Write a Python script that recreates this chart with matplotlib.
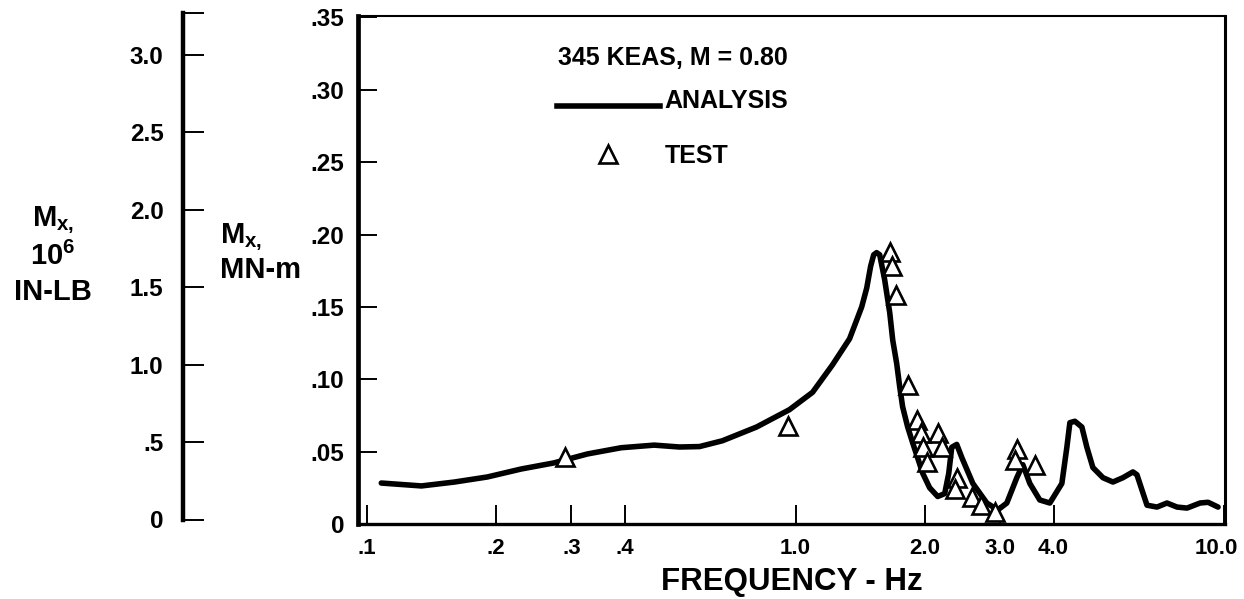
import matplotlib
matplotlib.use("Agg")
import numpy as np
import matplotlib.pyplot as plt
import matplotlib.transforms as mtransforms
from matplotlib.legend_handler import HandlerLine2D
from matplotlib.lines import Line2D
from matplotlib.ticker import NullLocator

# --- data ------------------------------------------------------------------
freq_analysis = [0.108, 0.134, 0.160, 0.191, 0.229, 0.273, 0.327, 0.392, 0.468, 0.536,
                 0.597, 0.675, 0.811, 0.968, 1.096, 1.220, 1.337, 1.427, 1.466, 1.497,
                 1.522, 1.546, 1.572, 1.614, 1.659, 1.686, 1.722, 1.750, 1.778, 1.827,
                 1.877, 1.981, 2.056, 2.147, 2.229, 2.278, 2.315, 2.378, 2.443, 2.593,
                 2.795, 2.965, 3.112, 3.284, 3.392, 3.522, 3.715, 3.921, 4.183, 4.297,
                 4.367, 4.486, 4.658, 4.785, 4.942, 5.216, 5.504, 5.808, 6.129, 6.262,
                 6.433, 6.609, 6.974, 7.358, 7.766, 8.195, 8.790, 9.178, 9.683]
mx_analysis = [0.0283, 0.0263, 0.0290, 0.0325, 0.0380, 0.0422, 0.0484, 0.0527, 0.0545, 0.0532,
               0.0535, 0.0575, 0.0670, 0.0790, 0.0910, 0.1100, 0.1280, 0.1500, 0.1630, 0.1780,
               0.1860, 0.1875, 0.1860, 0.1690, 0.1460, 0.1270, 0.1110, 0.0950, 0.0810, 0.0670,
               0.0560, 0.0350, 0.0250, 0.0190, 0.0210, 0.0350, 0.0530, 0.0550, 0.0460, 0.0280,
               0.0145, 0.0097, 0.0145, 0.0320, 0.0410, 0.0280, 0.0166, 0.0145, 0.0280, 0.0530,
               0.0700, 0.0710, 0.0670, 0.0530, 0.0390, 0.0320, 0.0290, 0.0320, 0.0360, 0.0340,
               0.0235, 0.0130, 0.0117, 0.0145, 0.0117, 0.0110, 0.0145, 0.0150, 0.0117]

freq_test = [0.29, 0.96, 1.66, 1.68, 1.72, 1.83, 1.92, 1.96, 1.98, 2.03,
             2.15, 2.20, 2.38, 2.35, 2.58, 2.71, 2.92, 3.28, 3.25, 3.62]
mx_test = [0.046, 0.068, 0.188, 0.178, 0.158, 0.096, 0.072, 0.063, 0.053, 0.043,
           0.063, 0.053, 0.032, 0.024, 0.019, 0.013, 0.008, 0.052, 0.044, 0.041]

x_ticks = [0.1, 0.2, 0.3, 0.4, 1.0, 2.0, 3.0, 4.0, 10.0]
x_labels = [".1", ".2", ".3", ".4", "1.0", "2.0", "3.0", "4.0", "10.0"]
y_ticks = [0, 0.05, 0.10, 0.15, 0.20, 0.25, 0.30, 0.35]
y_labels = ["0", ".05", ".10", ".15", ".20", ".25", ".30", ".35"]
inlb_ticks = [0, 0.5, 1.0, 1.5, 2.0, 2.5, 3.0, 3.27]
inlb_labels = ["0", ".5", "1.0", "1.5", "2.0", "2.5", "3.0", ""]

FONT = "Liberation Sans"
plt.rcParams["font.family"] = [FONT, "DejaVu Sans"]
plt.rcParams["font.weight"] = "bold"
plt.rcParams["mathtext.fontset"] = "custom"
plt.rcParams["mathtext.rm"] = "Liberation Sans:bold"
plt.rcParams["mathtext.it"] = "Liberation Sans:bold"
plt.rcParams["mathtext.bf"] = "Liberation Sans:bold"

W, H = 1244, 599
LW = 4.0
TRI = dict(ls="none", marker="^", ms=13.5, mfc="white", mec="black", mew=1.9)


class BaselineLine(HandlerLine2D):
    # legend line sits near the text baseline, as in the original sheet
    def create_artists(self, legend, orig_handle, xdescent, ydescent,
                       width, height, fontsize, trans):
        arts = super().create_artists(legend, orig_handle, xdescent, ydescent,
                                      width, height, fontsize, trans)
        for a in arts:
            a.set_ydata(np.asarray(a.get_ydata()) - 0.28 * fontsize)
        return arts


fig = plt.figure(figsize=(W / 100, H / 100), dpi=100)


def fx(px):
    return px / W


def fy(py):
    return 1 - py / H


# main axes (MN-m)
ax = fig.add_axes([fx(358), fy(524), (1225 - 358) / W, (524 - 16) / H])
ax.set_xscale("log")
ax.set_xlim(0.0953, 10.05)
ax.set_ylim(0, 0.351)

ax.plot(freq_analysis, mx_analysis, color="black", lw=LW,
        solid_joinstyle="round", solid_capstyle="round", zorder=2)
ax.plot(freq_test, mx_test, zorder=3, **TRI)

ax.set_xticks(x_ticks)
ax.set_xticklabels(x_labels)
ax.xaxis.set_minor_locator(NullLocator())
ax.set_yticks(y_ticks)
ax.set_yticklabels(y_labels)
ax.tick_params(axis="x", direction="in", length=14, width=1.4, pad=10, labelsize=16)
ax.tick_params(axis="y", direction="in", length=14, width=1.4, pad=10, labelsize=17.5)
last = ax.get_xticklabels()[-1]
last.set_transform(last.get_transform() +
                   mtransforms.ScaledTranslation(-8 / 100, 0, fig.dpi_scale_trans))
ax.spines["left"].set_linewidth(3.4)
ax.spines["bottom"].set_linewidth(2.4)
ax.spines["top"].set_linewidth(1.5)
ax.spines["right"].set_linewidth(2.2)

ax.set_xlabel("FREQUENCY - Hz", fontsize=22.5, fontweight="bold", labelpad=6)

# legend block
ax.text((558 - 358) / 867, 1 - (58 - 16) / 508, "345 KEAS, M = 0.80",
        transform=ax.transAxes, fontsize=18, ha="left", va="center")
line_h = Line2D([], [], color="black", lw=LW)
handles = [line_h, Line2D([], [], **TRI)]
leg = ax.legend(handles, ["ANALYSIS", "TEST"],
                loc="upper left", bbox_to_anchor=((557 - 358) / 867, 1 - (89 - 16) / 508),
                frameon=False, handlelength=4.1, handletextpad=0.2, labelspacing=1.25,
                borderpad=0, borderaxespad=0, prop={"size": 18, "weight": "bold"},
                handler_map={line_h: BaselineLine()})

# secondary scale (10^6 IN-LB) drawn as its own bare axis
ax2 = fig.add_axes([fx(183), fy(519.5), 0.02, (519.5 - 13) / H])
ax2.set_ylim(0, 3.27)
ax2.set_yticks(inlb_ticks)
ax2.set_yticklabels(inlb_labels)
ax2.set_xticks([])
for s in ["top", "right", "bottom"]:
    ax2.spines[s].set_visible(False)
ax2.spines["left"].set_linewidth(3.2)
ax2.tick_params(axis="y", direction="in", length=15, width=1.4, pad=14, labelsize=17.5)
ax2.patch.set_visible(False)

# axis titles
fig.text(fx(220), fy(237), r"M$_{\mathrm{x,}}$", fontsize=21, ha="left", va="center")
fig.text(fx(220), fy(270), "MN-m", fontsize=21, ha="left", va="center")
fig.text(fx(53), fy(220), r"M$_{\mathrm{x,}}$", fontsize=21, ha="center", va="center")
fig.text(fx(53), fy(256), r"10$^{\mathrm{6}}$", fontsize=21, ha="center", va="center")
fig.text(fx(53), fy(292), "IN-LB", fontsize=21, ha="center", va="center")

fig.savefig("out.png", dpi=100)
